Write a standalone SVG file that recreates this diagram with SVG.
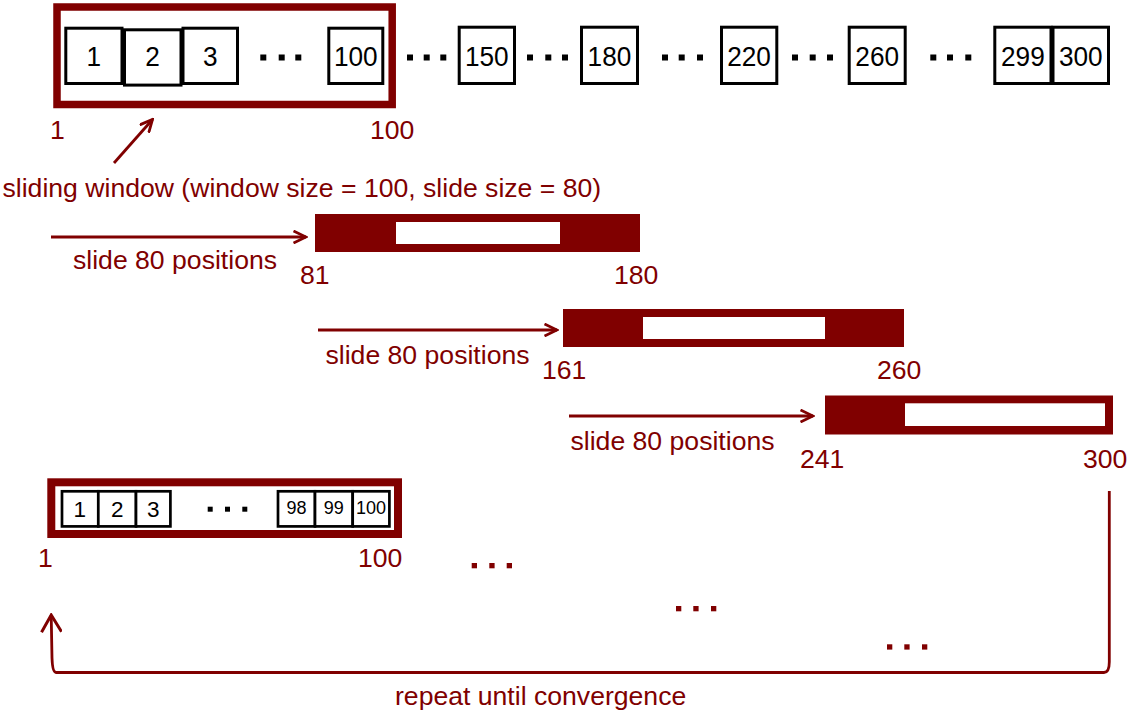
<svg xmlns="http://www.w3.org/2000/svg" width="1129" height="713" viewBox="0 0 1129 713">
  <defs>
    <style>
      .bg { fill: #ffffff; }
      .frame { fill: none; stroke: #800000; stroke-width: 7.5; }
      .frame-sm { fill: none; stroke: #800000; stroke-width: 8; }
      .win { fill: #800000; }
      .hole { fill: #ffffff; }
      .cell { fill: #ffffff; stroke: #000000; stroke-width: 3; }
      .cell-sm { fill: #ffffff; stroke: #000000; stroke-width: 2.7; }
      .dot { fill: #000000; }
      .rdot { fill: #800000; }
      .num { font-family: "Liberation Sans", Arial, sans-serif; font-size: 28.5px; fill: #000000; text-anchor: middle;
             transform-box: fill-box; transform-origin: center; transform: scaleX(0.92); }
      .num-sm { font-family: "Liberation Sans", Arial, sans-serif; font-size: 22.5px; fill: #000000; text-anchor: middle; }
      .num-xs { font-family: "Liberation Sans", Arial, sans-serif; font-size: 18px; fill: #000000; text-anchor: middle; }
      .lbl { font-family: "Liberation Sans", Arial, sans-serif; font-size: 26.6px; fill: #800000; }
      .conn { fill: none; stroke: #800000; stroke-width: 2.8; }
    </style>
    <marker id="head" markerUnits="userSpaceOnUse" viewBox="0 0 15 14" markerWidth="15" markerHeight="14" refX="13" refY="7" orient="auto">
      <path d="M0.5,1 L13,7 L0.5,13" fill="none" stroke="#800000" stroke-width="2.8"/>
    </marker>
    <marker id="head-lg" markerUnits="userSpaceOnUse" viewBox="0 0 20 22" markerWidth="20" markerHeight="22" refX="18" refY="11" orient="auto">
      <path d="M1,1 L18,11 L1,21" fill="none" stroke="#800000" stroke-width="3"/>
    </marker>
  </defs>

  <rect class="bg" x="0" y="0" width="1129" height="713"/>

  <!-- sequence of positions 1..300 -->
  <g id="sequence">
    <rect class="cell" x="65.8" y="28.2" width="56.2" height="55.3"/>
    <rect class="cell" x="183" y="28.2" width="54.5" height="55.3"/>
    <rect class="cell" x="124.5" y="29.8" width="56.5" height="55.3"/>
    <rect class="cell" x="328.8" y="28.2" width="54" height="55.3"/>
    <rect class="cell" x="459.2" y="27.2" width="55.3" height="56.3"/>
    <rect class="cell" x="581.5" y="27.2" width="56" height="56.3"/>
    <rect class="cell" x="721.5" y="27.2" width="55.3" height="56.3"/>
    <rect class="cell" x="849.2" y="27.2" width="56" height="56.3"/>
    <rect class="cell" x="994.8" y="27.2" width="56.2" height="56.3"/>
    <rect class="cell" x="1053" y="27.2" width="55.5" height="56.3"/>

    <text class="num" x="93.9" y="66">1</text>
    <text class="num" x="152.6" y="66">2</text>
    <text class="num" x="210.2" y="66">3</text>
    <text class="num" x="355.8" y="66">100</text>
    <text class="num" x="486.8" y="66">150</text>
    <text class="num" x="609.5" y="66">180</text>
    <text class="num" x="749.1" y="66">220</text>
    <text class="num" x="877.2" y="66">260</text>
    <text class="num" x="1022.9" y="66">299</text>
    <text class="num" x="1080.8" y="66">300</text>

    <!-- ellipses between cells -->
    <rect class="dot" x="260.3" y="54.5" width="6" height="6"/>
    <rect class="dot" x="278.7" y="54.5" width="6" height="6"/>
    <rect class="dot" x="295.3" y="54.5" width="6" height="6"/>
    <rect class="dot" x="407" y="54.5" width="6" height="6"/>
    <rect class="dot" x="423.7" y="54.5" width="6" height="6"/>
    <rect class="dot" x="440.3" y="54.5" width="6" height="6"/>
    <rect class="dot" x="527" y="54.5" width="6" height="6"/>
    <rect class="dot" x="545.3" y="54.5" width="6" height="6"/>
    <rect class="dot" x="562" y="54.5" width="6" height="6"/>
    <rect class="dot" x="662" y="54.5" width="6" height="6"/>
    <rect class="dot" x="678.7" y="54.5" width="6" height="6"/>
    <rect class="dot" x="697" y="54.5" width="6" height="6"/>
    <rect class="dot" x="792" y="54.5" width="6" height="6"/>
    <rect class="dot" x="809.7" y="54.5" width="6" height="6"/>
    <rect class="dot" x="827" y="54.5" width="6" height="6"/>
    <rect class="dot" x="930.3" y="54.5" width="6" height="6"/>
    <rect class="dot" x="947" y="54.5" width="6" height="6"/>
    <rect class="dot" x="965.3" y="54.5" width="6" height="6"/>
  </g>

  <!-- first window over positions 1..100 -->
  <g id="window-1">
    <rect class="frame" x="57" y="7" width="335.2" height="97.5"/>
    <text class="lbl" x="50" y="139">1</text>
    <text class="lbl" x="370" y="139">100</text>
  </g>

  <g id="caption">
    <text class="lbl" x="2.5" y="197">sliding window (window size = 100, slide size = 80)</text>
  </g>

  <!-- window shifted to 81..180 -->
  <g id="window-2">
    <rect class="win" x="315" y="214" width="325" height="38"/>
    <rect class="hole" x="396" y="222" width="164" height="22"/>
    <text class="lbl" x="300" y="284">81</text>
    <text class="lbl" x="614" y="284">180</text>
  </g>

  <!-- window shifted to 161..260 -->
  <g id="window-3">
    <rect class="win" x="563" y="309" width="341" height="38"/>
    <rect class="hole" x="643" y="317" width="182" height="22"/>
    <text class="lbl" x="542" y="379">161</text>
    <text class="lbl" x="877" y="379">260</text>
  </g>

  <!-- window shifted to 241..300 -->
  <g id="window-4">
    <rect class="win" x="825" y="395.5" width="288" height="39"/>
    <rect class="hole" x="905" y="403.3" width="200" height="22.7"/>
    <text class="lbl" x="800" y="468">241</text>
    <text class="lbl" x="1083" y="468">300</text>
  </g>

  <!-- next pass, restarting at 1..100 -->
  <g id="window-restart">
    <rect class="frame-sm" x="51.3" y="482.3" width="346.7" height="51.7"/>
    <rect class="cell-sm" x="62" y="491.3" width="36.3" height="35.1"/>
    <rect class="cell-sm" x="98.3" y="491.3" width="37.7" height="35.1"/>
    <rect class="cell-sm" x="136" y="491.3" width="34.4" height="35.1"/>
    <rect class="cell-sm" x="278" y="491.3" width="37" height="35.1"/>
    <rect class="cell-sm" x="315" y="491.3" width="37.7" height="35.1"/>
    <rect class="cell-sm" x="352.7" y="491.3" width="36.7" height="35.1"/>
    <text class="num-sm" x="79.8" y="517">1</text>
    <text class="num-sm" x="117.2" y="517">2</text>
    <text class="num-sm" x="153.3" y="517">3</text>
    <text class="num-xs" x="296.5" y="513.5">98</text>
    <text class="num-xs" x="333.8" y="513.5">99</text>
    <text class="num-xs" x="371" y="513.5">100</text>
    <rect class="dot" x="207.7" y="506.7" width="5" height="5"/>
    <rect class="dot" x="225" y="506.7" width="5" height="5"/>
    <rect class="dot" x="242.3" y="506.7" width="5" height="5"/>
    <text class="lbl" x="38" y="567">1</text>
    <text class="lbl" x="358" y="567">100</text>
  </g>

  <!-- later windows of the next pass, elided -->
  <g id="continuation">
    <rect class="rdot" x="471.7" y="563" width="5.3" height="5.3"/>
    <rect class="rdot" x="489.3" y="563" width="5.3" height="5.3"/>
    <rect class="rdot" x="506.7" y="563" width="5.3" height="5.3"/>
    <rect class="rdot" x="676" y="606" width="5.3" height="5.3"/>
    <rect class="rdot" x="693.3" y="606" width="5.3" height="5.3"/>
    <rect class="rdot" x="711" y="606" width="5.3" height="5.3"/>
    <rect class="rdot" x="887" y="644.3" width="5.3" height="5.3"/>
    <rect class="rdot" x="904.3" y="644.3" width="5.3" height="5.3"/>
    <rect class="rdot" x="922" y="644.3" width="5.3" height="5.3"/>
  </g>

  <g id="connectors">
    <line class="conn" x1="114" y1="163" x2="152.5" y2="119.5" marker-end="url(#head)"/>
    <line class="conn" x1="51" y1="237" x2="306" y2="237" marker-end="url(#head)"/>
    <line class="conn" x1="318" y1="330" x2="557" y2="330" marker-end="url(#head)"/>
    <line class="conn" x1="569" y1="416" x2="813" y2="416" marker-end="url(#head)"/>
    <path class="conn" d="M1109.3,491 L1109.3,662 Q1109.3,672.5 1104,672.5 L56,672.5 Q52.5,672.5 52,658 L51.2,615" stroke-width="3" marker-end="url(#head-lg)"/>
  </g>

  <g id="connector-labels">
    <text class="lbl" x="73" y="269">slide 80 positions</text>
    <text class="lbl" x="325.5" y="364">slide 80 positions</text>
    <text class="lbl" x="570.5" y="450">slide 80 positions</text>
    <text class="lbl" x="395" y="705">repeat until convergence</text>
  </g>
</svg>
